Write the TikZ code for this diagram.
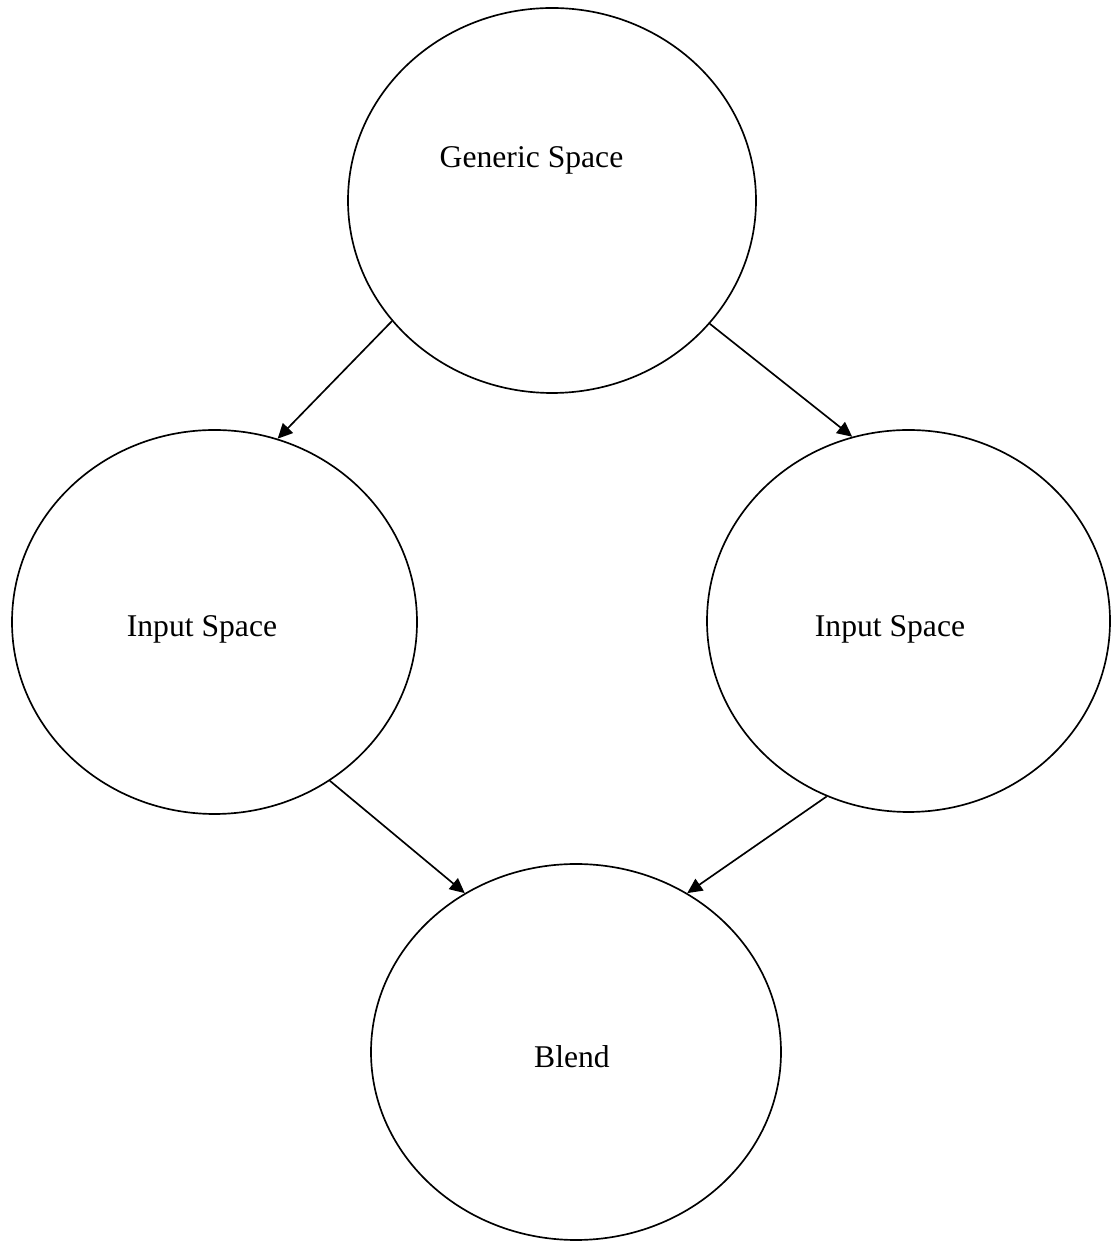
\documentclass[tikz,border=0pt]{standalone}
\usepackage{fontspec}
\setmainfont{Liberation Serif}
\usepackage {tikz}
\usetikzlibrary{shapes.geometric}
\usetikzlibrary{arrows.meta}
\tikzset{
	space/.style = {ellipse, draw, inner sep=0pt},
    caption/.style = {anchor=base, font=\fontsize{18}{22}\selectfont}}

\begin{document}
\begin{tikzpicture}[-{Triangle[length=8.5pt,width=8pt]}, line width=0.95pt]
    \useasboundingbox (0,0) rectangle (22.24,24.94);
    \node[space, minimum width=8.16cm, minimum height=7.7cm] (G) at (11.04,20.93) {};
    \node[space, minimum width=8.1cm, minimum height=7.68cm] (I1) at (4.29,12.5) {};
    \node[space, minimum width=8.06cm, minimum height=7.64cm] (I2) at (18.17,12.52) {};
    \node[space, minimum width=8.2cm, minimum height=7.52cm] (B) at (11.52,3.9) {};
    \node[caption] (Gtext) at (10.63,21.58) {Generic Space};
    \node[caption] (I1text) at (4.04,12.2) {Input Space};
    \node[caption] (I2text) at (17.8,12.2) {Input Space};
    \node[caption] (Btext) at (11.44,3.58) {Blend};
    \draw (G.217.6) -- (I1.71.2);
    \draw (G.322.1) -- (I2.107.7);
    \draw (I1.306.1) -- (B.125.4);
    \draw (I2.245.8) -- (B.55);
    \end{tikzpicture}
\end{document}
